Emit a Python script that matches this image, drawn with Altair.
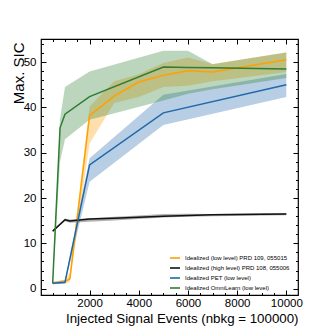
import altair as alt
import pandas as pd

# ---- data ----
names = [
    "Idealized (low level) PRD 109, 055015",
    "Idealized (high level) PRD 108, 055006",
    "Idealized PET (low level)",
    "Idealized OmniLearn (low level)",
]
colors = ["#ffa000", "#111111", "#1f68aa", "#2e7d32"]

x_orange = [500, 1000, 1200, 2000, 3000, 4000, 5000, 6000, 7000, 10000]
y_orange = [1.2, 1.5, 2.2, 38.2, 42.5, 45.6, 47.1, 48.1, 47.8, 50.5]
lo_orange = [1.0, 1.1, 1.5, 32.0, 41.0, 42.3, 44.5, 44.8, 45.8, 47.8]
hi_orange = [1.4, 2.0, 3.5, 40.2, 45.8, 47.3, 49.8, 51.0, 49.6, 52.2]

x_black = [500, 1000, 1200, 2000, 3000, 4000, 5000, 6000, 7000, 10000]
y_black = [12.7, 15.2, 14.95, 15.35, 15.55, 15.75, 16.0, 16.15, 16.3, 16.5]
lo_black = [12.5, 14.9, 14.55, 14.75, 15.05, 15.35, 15.7, 15.85, 16.0, 16.2]
hi_black = [12.9, 15.5, 15.25, 15.55, 15.85, 16.15, 16.5, 16.55, 16.5, 16.7]

x_blue = [500, 1000, 2000, 5000, 10000]
y_blue = [1.2, 1.4, 27.3, 38.8, 45.0]
lo_blue = [1.0, 1.1, 23.6, 36.1, 42.3]
hi_blue = [1.5, 1.9, 28.8, 42.8, 47.4]

x_green = [500, 800, 1000, 2000, 5000, 6000, 7000, 10000]
y_green = [1.2, 35.5, 38.5, 42.4, 48.9, 48.8, 48.75, 48.5]
lo_green = [1.0, 28.0, 33.0, 37.3, 41.5, 43.0, 44.0, 46.5]
hi_green = [1.6, 37.5, 44.5, 47.9, 52.5, 52.5, 49.5, 52.1]

x_major = [2000, 4000, 6000, 8000, 10000]
x_minor = [500, 1000, 1500, 2500, 3000, 3500, 4500, 5000, 5500, 6500, 7000, 7500,
           8500, 9000, 9500, 10000]
y_major = [0, 10, 20, 30, 40, 50]
y_minor = [2, 4, 6, 8, 12, 14, 16, 18, 22, 24, 26, 28, 32, 34, 36, 38, 42, 44, 46,
           48, 52, 54]

series = [
    (names[0], x_orange, y_orange, lo_orange, hi_orange),
    (names[1], x_black, y_black, lo_black, hi_black),
    (names[2], x_blue, y_blue, lo_blue, hi_blue),
    (names[3], x_green, y_green, lo_green, hi_green),
]
rows = []
for i, (n, xs_, ys_, los, his) in enumerate(series):
    for x, y, lo, hi in zip(xs_, ys_, los, his):
        rows.append({"name": n, "order": i, "x": x, "y": y, "lo": lo, "hi": hi})
df = pd.DataFrame(rows)

W, H = 257, 256
FONT = "Liberation Sans"
xs = alt.Scale(domain=[25, 10475], nice=False, zero=False)
ys = alt.Scale(domain=[-1.4, 55.1], nice=False, zero=False)
cs = alt.Scale(domain=names, range=colors)

legend = alt.Legend(
    title=None, orient="none", legendX=128, legendY=213,
    symbolType="stroke", symbolSize=100, symbolStrokeWidth=1.6,
    symbolFillColor="transparent", symbolOpacity=1,
    labelFont=FONT, labelFontSize=6, labelColor="#000", labelLimit=300,
    rowPadding=0, padding=0, labelOffset=4)

base = alt.Chart(df)

bands = base.mark_area(opacity=0.32, strokeWidth=0).encode(
    x=alt.X("x:Q", scale=xs, axis=alt.Axis(
        orient="bottom", values=x_major, format="d", ticks=False, tickSize=0,
        domain=False, grid=False, labelPadding=2, labelFontSize=11.5,
        labelFont=FONT, labelColor="#000", title="Injected Signal Events (nbkg = 100000)",
        titleFont=FONT, titleFontSize=13.3, titleFontWeight="normal", titleColor="#000",
        titleAnchor="end", titleAlign="right", titleX=W, titleY=27,
        titleBaseline="alphabetic")),
    y=alt.Y("lo:Q", scale=ys, axis=alt.Axis(
        orient="left", values=y_major, ticks=False, tickSize=0, domain=False,
        grid=False, labelPadding=5, labelFontSize=11.5, labelFont=FONT,
        labelColor="#000", title="Max. SIC", titleFont=FONT, titleFontSize=15,
        titleFontWeight="normal", titleColor="#000", titleAnchor="end",
        titleAlign="right", titleX=-18, titleY=3, titleBaseline="alphabetic",
        titleAngle=270)),
    y2="hi:Q",
    color=alt.Color("name:N", scale=cs, legend=legend),
    detail="name:N",
)

lines = base.mark_line(strokeWidth=1.5).encode(
    x=alt.X("x:Q", scale=xs, axis=None),
    y=alt.Y("y:Q", scale=ys, axis=None),
    color=alt.Color("name:N", scale=cs, legend=legend),
    order="order:Q",
)


def tick_layer(xorient, xoff, yorient, yoff, xvals, yvals, size):
    return base.mark_point(opacity=0).encode(
        x=alt.X("x:Q", scale=xs, axis=alt.Axis(
            orient=xorient, offset=xoff, values=xvals, labels=False, domain=False,
            grid=False, ticks=True, tickSize=size, tickColor="#000", tickWidth=1,
            title=None)),
        y=alt.Y("y:Q", scale=ys, axis=alt.Axis(
            orient=yorient, offset=yoff, values=yvals, labels=False, domain=False,
            grid=False, ticks=True, tickSize=size, tickColor="#000", tickWidth=1,
            title=None)),
    )


t1 = tick_layer("top", -H, "right", -W, x_major, y_major, 5)
t2 = tick_layer("top", -H, "right", -W, x_minor, y_minor, 2.5)
t3 = tick_layer("bottom", -H, "left", -W, x_major, y_major, 5)
t4 = tick_layer("bottom", -H, "left", -W, x_minor, y_minor, 2.5)

chart = alt.layer(bands, lines, t1, t2, t3, t4).resolve_axis(
    x="independent", y="independent"
).properties(
    width=W, height=H,
    autosize=alt.AutoSizeParams(type="none"),
    padding={"left": 33, "top": 31, "right": 26, "bottom": 37},
).configure_view(stroke="#000", strokeWidth=1.2)

chart.save("out.html", embed_options={"renderer": "svg", "actions": False})
